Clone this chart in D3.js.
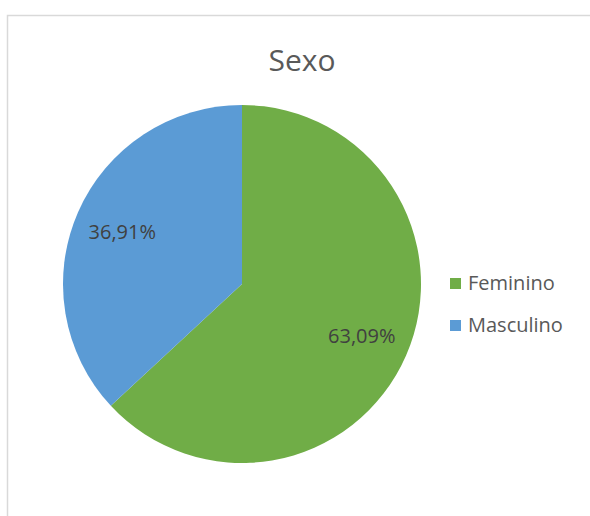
<!DOCTYPE html>
<html>
<head>
<meta charset="utf-8">
<script src="https://cdn.jsdelivr.net/npm/d3@7"></script>
<style>
  body { margin: 0; background: #fff; }
  text { font-family: "Open Sans", "Noto Sans", sans-serif; }
</style>
</head>
<body>
<div id="chart"></div>
<script>
// data
var categories = ["Feminino", "Masculino"]
var values = [63.09, 36.91]
var labels = ["63,09%", "36,91%"]
var colors = ["#70AD47", "#5B9BD5"]

const width = 590, height = 516
const cx = 242, cy = 284, radius = 179

const svg = d3.select("#chart")
  .append("svg")
    .attr("width", width)
    .attr("height", height)

// chart area border (cropped on the right and bottom)
svg.append("path")
  .attr("d", "M7.5,540 L7.5,15.5 L600,15.5")
  .attr("fill", "none")
  .attr("stroke", "#d9d9d9")
  .attr("stroke-width", 1.5)

svg.append("text")
  .attr("x", 302)
  .attr("y", 71)
  .attr("text-anchor", "middle")
  .attr("font-size", 30)
  .attr("fill", "#595959")
  .text("Sexo")

const data = categories.map(function(c, i) {
  return {name: c, value: values[i], label: labels[i], color: colors[i]}
})

const pie = d3.pie().sort(null).value(function(d) { return d.value })
const arc = d3.arc().innerRadius(0).outerRadius(radius)

const g = svg.append("g")
  .attr("transform", `translate(${cx},${cy})`)

const arcs = pie(data)

g.selectAll("path")
  .data(arcs)
  .join("path")
    .attr("d", arc)
    .attr("fill", function(d) { return d.data.color })

// labels placed inside each slice
const labelArc = d3.arc().innerRadius(radius * 0.73).outerRadius(radius * 0.73)
g.selectAll(".lbl")
  .data(arcs)
  .join("text")
    .attr("class", "lbl")
    .attr("transform", function(d) { return `translate(${labelArc.centroid(d)})` })
    .attr("text-anchor", "middle")
    .attr("dy", "0.35em")
    .attr("font-size", 20)
    .attr("fill", "#404040")
    .text(function(d) { return d.data.label })

// legend
const legend = svg.append("g")
  .attr("transform", "translate(450,283)")

const item = legend.selectAll("g")
  .data(data)
  .join("g")
    .attr("transform", function(d, i) { return `translate(0,${i * 42})` })

item.append("rect")
  .attr("x", 0)
  .attr("y", -5)
  .attr("width", 11)
  .attr("height", 11)
  .attr("fill", function(d) { return d.color })

item.append("text")
  .attr("x", 18)
  .attr("y", 0)
  .attr("dy", "0.35em")
  .attr("font-size", 20)
  .attr("fill", "#595959")
  .text(function(d) { return d.name })
</script>
</body>
</html>
